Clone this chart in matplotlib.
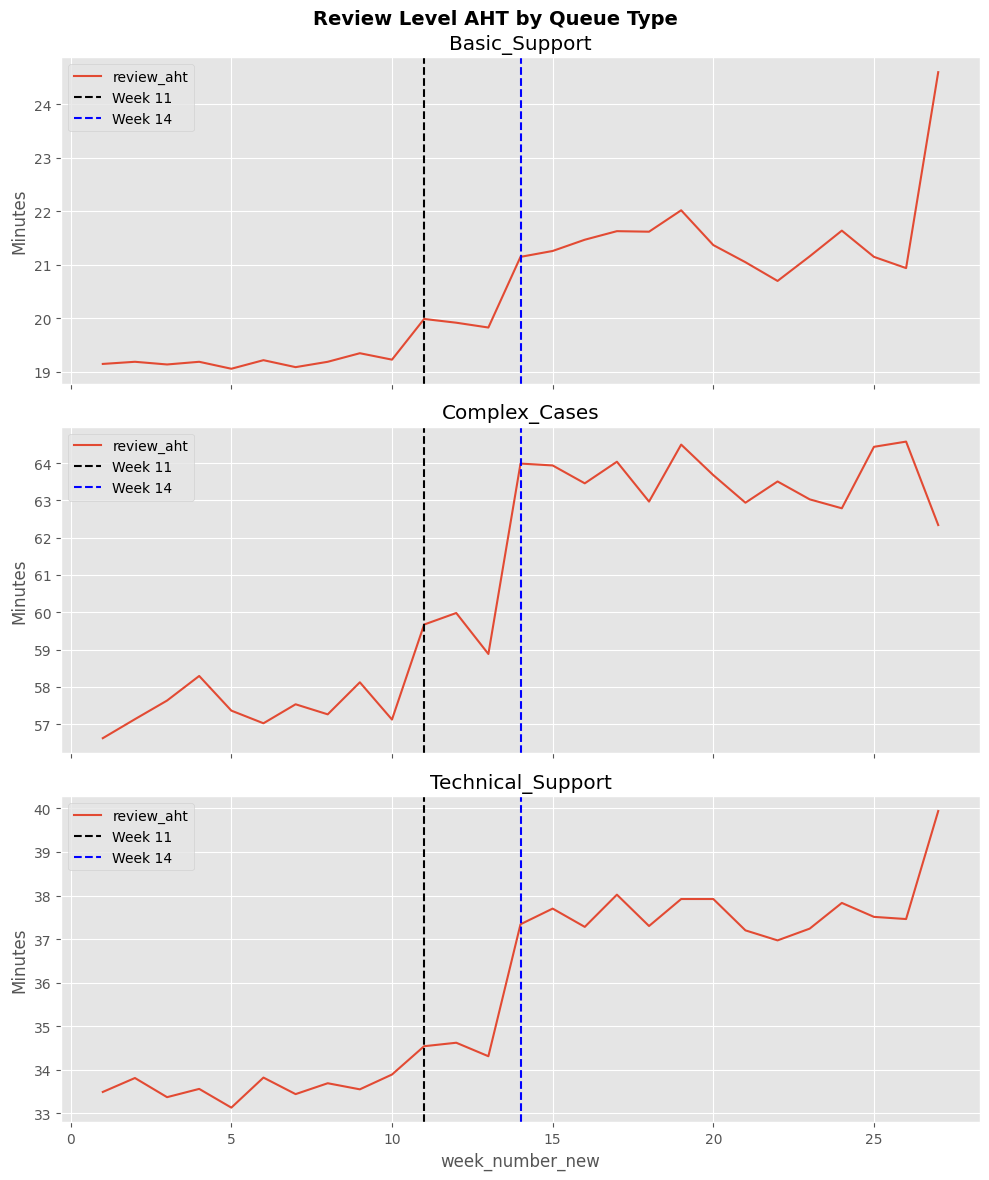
import matplotlib
matplotlib.use('Agg')
import matplotlib.pyplot as plt

plt.style.use('ggplot')

# ── Data ──────────────────────────────────────────────────────────────
weeks = list(range(1, 28))
queue_types = ['Basic_Support', 'Complex_Cases', 'Technical_Support']

basic_support = [19.15, 19.19, 19.14, 19.19, 19.06, 19.22, 19.09, 19.19, 19.35, 19.23,
                 19.99, 19.92, 19.83, 21.15, 21.26, 21.47, 21.63, 21.62, 22.02, 21.37,
                 21.05, 20.70, 21.16, 21.64, 21.15, 20.94, 24.60]
complex_cases = [56.62, 57.13, 57.63, 58.29, 57.36, 57.02, 57.53, 57.26, 58.12, 57.12,
                 59.67, 59.98, 58.88, 63.99, 63.94, 63.46, 64.04, 62.97, 64.50, 63.68,
                 62.94, 63.51, 63.03, 62.79, 64.44, 64.58, 62.34]
technical_support = [33.49, 33.81, 33.37, 33.56, 33.13, 33.82, 33.44, 33.69, 33.55, 33.89,
                     34.54, 34.62, 34.31, 37.34, 37.70, 37.28, 38.02, 37.30, 37.92, 37.92,
                     37.20, 36.97, 37.24, 37.83, 37.51, 37.46, 39.94]
series = [basic_support, complex_cases, technical_support]

marker_weeks = [11, 14]
marker_colors = ['black', 'blue']

# ── Plot ───────────────────────────────────────────────────────────────
fig, axes = plt.subplots(3, 1, figsize=(10, 12), dpi=100, sharex=True)

for ax, name, values in zip(axes, queue_types, series):
    ax.plot(weeks, values, label='review_aht')
    for wk, col in zip(marker_weeks, marker_colors):
        ax.axvline(wk, color=col, linestyle='--', label=f'Week {wk}')
    ax.set_title(name)
    ax.set_ylabel('Minutes')
    ax.legend(loc='upper left')

axes[-1].set_xlabel('week_number_new')
fig.suptitle('Review Level AHT by Queue Type', fontsize=14, fontweight='bold')
fig.tight_layout()
fig.savefig('out.png', dpi=100, bbox_inches='tight')
